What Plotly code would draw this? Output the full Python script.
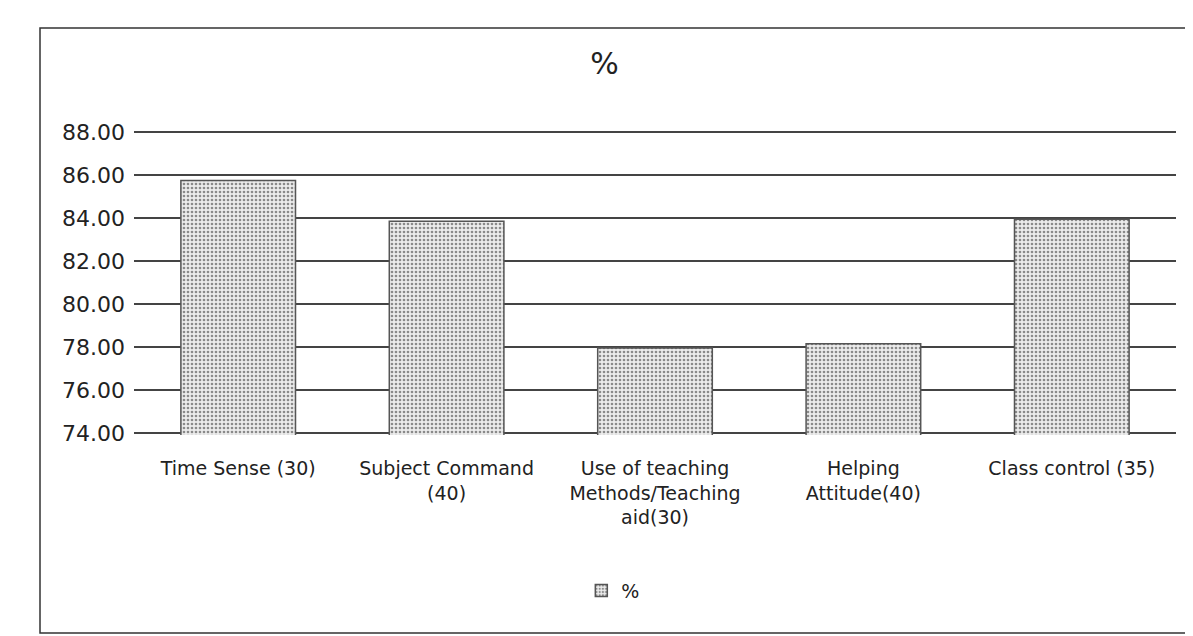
import plotly.graph_objects as go

categories = [
    "Time Sense (30)",
    "Subject Command<br>(40)",
    "Use of teaching<br>Methods/Teaching<br>aid(30)",
    "Helping<br>Attitude(40)",
    "Class control (35)",
]
values = [85.75, 83.85, 77.95, 78.15, 83.95]
series_name = "%"
y_ticks = [74, 76, 78, 80, 82, 84, 86, 88]

W, H = 1193, 636
L, R, T, B = 126, 25, 122, 209
pw, ph = W - L - R, H - T - B

def px_to_paper(x, y):
    return (x - L) / pw, (H - B - y) / ph

fig = go.Figure()
fig.add_trace(go.Bar(
    x=categories, y=values, name=series_name,
    marker=dict(
        color="#e6e6e6",
        line=dict(color="#555555", width=1.5),
        pattern=dict(shape=".", fgcolor="#8a8a8a", bgcolor="#ececec", size=4, solidity=0.35, fillmode="replace"),
    ),
    width=0.55,
))

xa, ya = px_to_paper(32, 625)
xb, yb = px_to_paper(1193, 20)
fig.add_shape(type="path", xref="paper", yref="paper",
              path=f"M {xb} {yb} L {xa} {yb} L {xa} {ya} L {xb} {ya}",
              line=dict(color="#333333", width=1.5), layer="below")

fig.update_layout(
    width=W, height=H,
    margin=dict(l=L, r=R, t=T, b=B),
    paper_bgcolor="white", plot_bgcolor="white",
    font=dict(family="DejaVu Sans, sans-serif", color="#222222", size=19),
    title=dict(text="%", x=0.5, xanchor="center", y=1 - 55 / H, yanchor="middle",
               font=dict(size=30, color="#222222")),
    showlegend=True,
    legend=dict(orientation="h", x=0.46, xanchor="center", y=-0.51, yanchor="middle",
                font=dict(size=19)),
    bargap=0.45,
)
fig.update_yaxes(range=[73.9, 88.1], tickvals=y_ticks,
                 ticktext=[f"{t:.2f}" for t in y_ticks],
                 showgrid=True, gridcolor="#444444", gridwidth=1.5,
                 zeroline=False, showline=False, ticks="", ticklabelstandoff=8,
                 tickfont=dict(size=22))
fig.update_xaxes(showline=False, ticks="", tickfont=dict(size=19), tickangle=0,
                 ticklabelstandoff=20)

fig.write_html("out.html")
